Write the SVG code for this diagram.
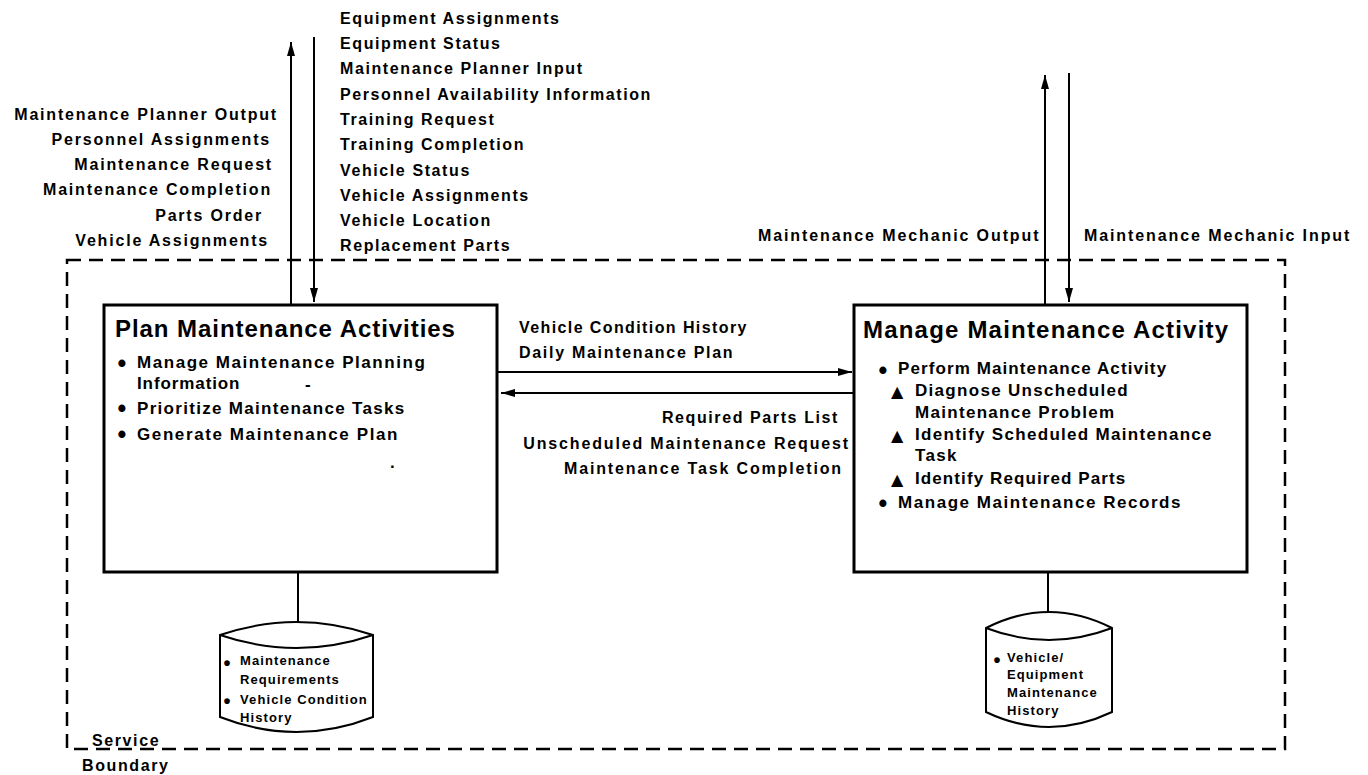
<svg xmlns="http://www.w3.org/2000/svg" width="1368" height="775" viewBox="0 0 1368 775">
<style>
text{font-family:"Liberation Sans",Arial,"DejaVu Sans",sans-serif;font-weight:bold;fill:#000}
.lbl{font-size:16px;letter-spacing:1.6px}
.lft{font-size:16px;letter-spacing:1.8px}
.mid{font-size:16px;letter-spacing:1.85px}
.mech{font-size:16px;letter-spacing:1.9px}
.title{font-size:24px;letter-spacing:0.95px}
.item{font-size:17px;letter-spacing:1.3px}
.itemr{font-size:17px;letter-spacing:1.3px}
.bul{font-size:25px}
.dbb{font-size:20px}
.db{font-size:13px;letter-spacing:1.1px}
.sym{font-family:"DejaVu Sans","Liberation Sans",sans-serif;font-size:16px}
.end{text-anchor:end}
.box{fill:#fff;stroke:#000;stroke-width:3}
.line{stroke:#000;stroke-width:2;fill:none}
.cyl{fill:#fff;stroke:#000;stroke-width:2}
.bound{fill:none;stroke:#000;stroke-width:2.5;stroke-dasharray:14 8}
</style>
<defs>
<marker id="ah" markerUnits="userSpaceOnUse" markerWidth="16" markerHeight="10" refX="14" refY="5" orient="auto">
<path d="M0,1 L14,5 L0,9 Z" fill="#000"/>
</marker>
</defs>
<rect fill="#fff" x="0" y="0" width="1368" height="775"/>

<g id="boundary">
<rect class="bound" x="67" y="260" width="1218" height="489"/>
<text class="lbl" x="92" y="746">Service</text>
<text class="lbl" x="82" y="771">Boundary</text>
</g>

<g id="connectors">
<line class="line" x1="291" y1="304" x2="291" y2="42" marker-end="url(#ah)"/>
<line class="line" x1="314" y1="37" x2="314" y2="302" marker-end="url(#ah)"/>
<line class="line" x1="1045" y1="304" x2="1045" y2="75" marker-end="url(#ah)"/>
<line class="line" x1="1069" y1="73" x2="1069" y2="302" marker-end="url(#ah)"/>
<line class="line" x1="498" y1="372" x2="852" y2="372" marker-end="url(#ah)"/>
<line class="line" x1="854" y1="393" x2="501" y2="393" marker-end="url(#ah)"/>
<line class="line" x1="298" y1="573" x2="298" y2="634"/>
<line class="line" x1="1048" y1="573" x2="1048" y2="632"/>
</g>

<g id="ext-labels-left">
<text class="lft end" x="278" y="120">Maintenance Planner Output</text>
<text class="lft end" x="271" y="145">Personnel Assignments</text>
<text class="lft end" x="273" y="170">Maintenance Request</text>
<text class="lft end" x="272" y="195">Maintenance Completion</text>
<text class="lft end" x="263" y="221">Parts Order</text>
<text class="lft end" x="269" y="246">Vehicle Assignments</text>
</g>

<g id="ext-labels-in">
<text class="lbl" x="340" y="24">Equipment Assignments</text>
<text class="lbl" x="340" y="49">Equipment Status</text>
<text class="lbl" x="340" y="74">Maintenance Planner Input</text>
<text class="lbl" x="340" y="100">Personnel Availability Information</text>
<text class="lbl" x="340" y="125">Training Request</text>
<text class="lbl" x="340" y="150">Training Completion</text>
<text class="lbl" x="340" y="176">Vehicle Status</text>
<text class="lbl" x="340" y="201">Vehicle Assignments</text>
<text class="lbl" x="340" y="226">Vehicle Location</text>
<text class="lbl" x="340" y="251">Replacement Parts</text>
</g>

<g id="mech-labels">
<text class="mech" x="758" y="241">Maintenance Mechanic Output</text>
<text class="mech" x="1084" y="241">Maintenance Mechanic Input</text>
</g>

<g id="mid-labels">
<text class="lbl" x="519" y="333" style="letter-spacing:1.4px">Vehicle Condition History</text>
<text class="lbl" x="519" y="358" style="letter-spacing:1.7px">Daily Maintenance Plan</text>
<text class="mid end" x="839" y="423" style="letter-spacing:1.6px">Required Parts List</text>
<text class="mid end" x="850" y="449">Unscheduled Maintenance Request</text>
<text class="mid end" x="843" y="474">Maintenance Task Completion</text>
</g>

<g id="plan-maintenance">
<rect class="box" x="104" y="305" width="393" height="267"/>
<text class="title" x="115" y="337">Plan Maintenance Activities</text>
<text class="bul" x="117.5" y="372">•</text>
<text class="item" x="137" y="368" style="letter-spacing:1.55px">Manage Maintenance Planning</text>
<text class="item" x="137" y="389" style="letter-spacing:0.9px">Information</text>
<text class="item" x="305" y="390">-</text>
<text class="bul" x="117.5" y="417">•</text>
<text class="item" x="137" y="414">Prioritize Maintenance Tasks</text>
<text class="bul" x="117.5" y="443">•</text>
<text class="item" x="137" y="440" style="letter-spacing:1.6px">Generate Maintenance Plan</text>
<text class="item" x="390" y="468">.</text>
</g>

<g id="manage-maintenance">
<rect class="box" x="854" y="305" width="393" height="267"/>
<text class="title" x="863" y="338" style="letter-spacing:1.2px">Manage Maintenance Activity</text>
<text class="bul" x="878.5" y="379">•</text>
<text class="itemr" x="898" y="374" style="letter-spacing:1.1px">Perform Maintenance Activity</text>
<text class="sym" x="891" y="397">▲</text>
<text class="itemr" x="915" y="396">Diagnose Unscheduled</text>
<text class="itemr" x="915" y="418">Maintenance Problem</text>
<text class="sym" x="891" y="441">▲</text>
<text class="itemr" x="915" y="440">Identify Scheduled Maintenance</text>
<text class="itemr" x="915" y="461">Task</text>
<text class="sym" x="891" y="485">▲</text>
<text class="itemr" x="915" y="484" style="letter-spacing:1.1px">Identify Required Parts</text>
<text class="bul" x="878.5" y="512">•</text>
<text class="itemr" x="898" y="508" style="letter-spacing:1.55px">Manage Maintenance Records</text>
</g>

<g id="store-maintenance-requirements">
<path class="cyl" d="M220,635 Q296.5,609 373,635 L373,717 Q296.5,747 220,717 Z"/>
<path class="line" d="M220,635 Q296.5,661 373,635"/>
<text class="dbb" x="223.5" y="670">•</text>
<text class="db" x="240" y="665">Maintenance</text>
<text class="db" x="240" y="684">Requirements</text>
<text class="dbb" x="223.5" y="708">•</text>
<text class="db" x="240" y="704">Vehicle Condition</text>
<text class="db" x="240" y="722">History</text>
</g>

<g id="store-vehicle-history">
<path class="cyl" d="M986,628 Q1049,596 1112,628 L1112,712 Q1049,742 986,712 Z"/>
<path class="line" d="M986,628 Q1049,652 1112,628"/>
<text class="dbb" x="993.5" y="667">•</text>
<text class="db" x="1007" y="662">Vehicle/</text>
<text class="db" x="1007" y="679">Equipment</text>
<text class="db" x="1007" y="697">Maintenance</text>
<text class="db" x="1007" y="715">History</text>
</g>
</svg>
